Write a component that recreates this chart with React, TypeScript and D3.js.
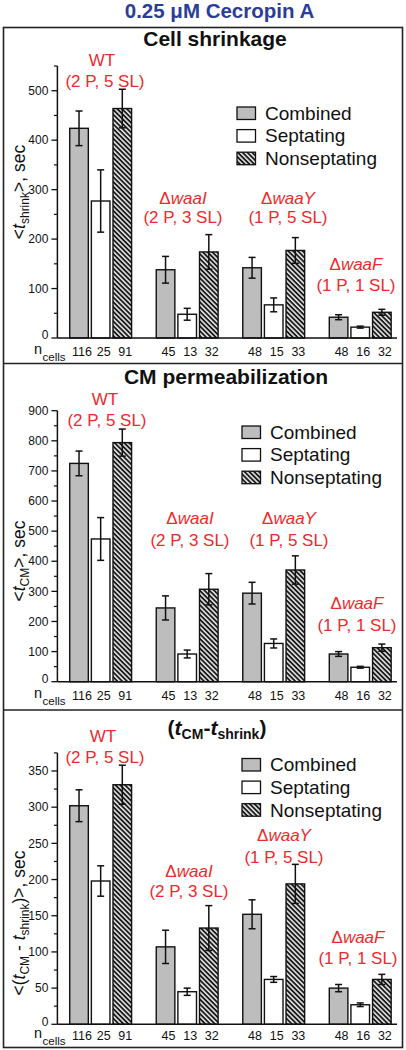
import React, { useEffect } from 'react';
import * as d3 from 'd3';

// ---------- data ----------
const groupGenes = ['WT', 'waaI', 'waaY', 'waaF'];
const groupCounts = ['(2 P, 5 SL)', '(2 P, 3 SL)', '(1 P, 5 SL)', '(1 P, 1 SL)'];
const seriesNames = ['Combined', 'Septating', 'Nonseptating'];
const nCells = [[116, 25, 91], [45, 13, 32], [48, 15, 33], [48, 16, 32]];

const shrinkMean = [[424, 277, 464], [138, 48, 174], [142, 67, 177], [42, 22, 52]];
const shrinkErr = [[35, 63, 39], [27, 12, 35], [21, 14, 26], [5, 2, 6]];
const cmMean = [[725, 474, 794], [245, 92, 307], [294, 127, 371], [92, 48, 113]];
const cmErr = [[41, 71, 45], [40, 13, 52], [36, 15, 47], [8, 3, 12]];
const diffMean = [[302, 198, 331], [107, 45, 133], [152, 62, 194], [50, 27, 62]];
const diffErr = [[22, 21, 27], [23, 5, 31], [20, 4, 27], [5, 2.5, 7]];

const shrinkTicks = [0, 100, 200, 300, 400, 500];
const cmTicks = [0, 100, 200, 300, 400, 500, 600, 700, 800, 900];
const diffTicks = [0, 50, 100, 150, 200, 250, 300, 350];

const FONT = '"Liberation Sans", Arial, Helvetica, sans-serif';
const RED = '#ec2a2d';
const BLUE = '#2b3e97';
const GRAY = '#bdbdbd';

const W = 406;
const H = 1050;

// x positions: bar index = group*4 + series
const x = d3.scaleLinear().domain([-1, 14.7]).range([57.4, 397]);
const BAR_W = 18.6;

type PanelCfg = {
  mean: number[][];
  err: number[][];
  ticks: number[];
  minorStep: number;
  yMax: number;
  y0: number;
  yTop: number;
  title: React.ReactNode;
  titleX: number;
  titleY: number;
  yLabel: React.ReactNode;
  yLabelY: number;
  legendX: number;
  legendY: number;
  ann: { x1: number; y1: number; x2: number; y2: number }[];
  nY: number;
};

const panels: PanelCfg[] = [
  {
    mean: shrinkMean, err: shrinkErr, ticks: shrinkTicks, minorStep: 50, yMax: 550,
    y0: 338, yTop: 66,
    title: 'Cell shrinkage', titleX: 215, titleY: 45.5,
    yLabel: (
      <>
        {'<'}<tspan fontStyle="italic">t</tspan>
        <tspan fontSize={12} dy={4}>shrink</tspan>
        <tspan dy={-4}>{'>, sec'}</tspan>
      </>
    ),
    yLabelY: 192,
    legendX: 237, legendY: 107,
    ann: [
      { x1: 102, y1: 66, x2: 105, y2: 87 },
      { x1: 183, y1: 204, x2: 183, y2: 222.5 },
      { x1: 288, y1: 204, x2: 288, y2: 222.5 },
      { x1: 356, y1: 270, x2: 356, y2: 290.5 },
    ],
    nY: 356,
  },
  {
    mean: cmMean, err: cmErr, ticks: cmTicks, minorStep: 50, yMax: 900,
    y0: 681.7, yTop: 410.7,
    title: 'CM permeabilization', titleX: 226, titleY: 384,
    yLabel: (
      <>
        {'<'}<tspan fontStyle="italic">t</tspan>
        <tspan fontSize={12} dy={4}>CM</tspan>
        <tspan dy={-4}>{'>, sec'}</tspan>
      </>
    ),
    yLabelY: 561,
    legendX: 242, legendY: 426,
    ann: [
      { x1: 105, y1: 405, x2: 107, y2: 426 },
      { x1: 190, y1: 524, x2: 190, y2: 546 },
      { x1: 289, y1: 524, x2: 289, y2: 546 },
      { x1: 357, y1: 609, x2: 357, y2: 631 },
    ],
    nY: 700,
  },
  {
    mean: diffMean, err: diffErr, ticks: diffTicks, minorStep: 25, yMax: 375,
    y0: 1024.3, yTop: 752.9,
    title: (
      <>
        {'('}<tspan fontStyle="italic">t</tspan>
        <tspan fontSize={14} dy={4}>CM</tspan>
        <tspan dy={-4}>-</tspan><tspan fontStyle="italic">t</tspan>
        <tspan fontSize={14} dy={4}>shrink</tspan>
        <tspan dy={-4}>)</tspan>
      </>
    ),
    titleX: 217, titleY: 735,
    yLabel: (
      <>
        {'<('}<tspan fontStyle="italic">t</tspan>
        <tspan fontSize={12} dy={4}>CM</tspan>
        <tspan dy={-4}>{' - '}</tspan><tspan fontStyle="italic">t</tspan>
        <tspan fontSize={12} dy={4}>shrink</tspan>
        <tspan dy={-4}>{')>, sec'}</tspan>
      </>
    ),
    yLabelY: 923,
    legendX: 242, legendY: 758.5,
    ann: [
      { x1: 103, y1: 742, x2: 105, y2: 763 },
      { x1: 189, y1: 877, x2: 189, y2: 897 },
      { x1: 284, y1: 841, x2: 284, y2: 862.5 },
      { x1: 358, y1: 943, x2: 358, y2: 963.5 },
    ],
    nY: 1040,
  },
];

const fills = [GRAY, '#ffffff', 'url(#hatch)'];

function Panel({ p }: { p: PanelCfg }) {
  const y = d3.scaleLinear().domain([0, p.yMax]).range([p.y0, p.yTop]);
  const minor = d3.range(p.minorStep, p.yMax + 0.001, p.minorStep).filter((v) => !p.ticks.includes(v));
  const axisX = x(-1);
  const bars: JSX.Element[] = [];
  p.mean.forEach((g, gi) => {
    g.forEach((v, si) => {
      const cx = x(gi * 4 + si);
      const e = p.err[gi][si];
      bars.push(
        <g key={`b${gi}-${si}`}>
          <rect x={cx - BAR_W / 2} y={y(v)} width={BAR_W} height={y(0) - y(v)}
            fill={fills[si]} stroke="#111" strokeWidth={1.4} />
          <line x1={cx} x2={cx} y1={y(v - e)} y2={y(v + e)} stroke="#111" strokeWidth={1.5} />
          <line x1={cx - 3.5} x2={cx + 3.5} y1={y(v - e)} y2={y(v - e)} stroke="#111" strokeWidth={1.5} />
          <line x1={cx - 3.5} x2={cx + 3.5} y1={y(v + e)} y2={y(v + e)} stroke="#111" strokeWidth={1.5} />
        </g>
      );
    });
  });
  return (
    <g>
      {bars}
      {/* y axis */}
      <line x1={axisX} x2={axisX} y1={y(p.yMax)} y2={y(0)} stroke="#111" strokeWidth={1.5} />
      <line x1={axisX} x2={x(14.7)} y1={y(0)} y2={y(0)} stroke="#111" strokeWidth={1.5} />
      {p.ticks.map((t) => (
        <g key={`t${t}`}>
          <line x1={axisX - 6} x2={axisX} y1={y(t)} y2={y(t)} stroke="#111" strokeWidth={1.3} />
          <text x={axisX - 9} y={y(t) - (t === 0 ? 3 : 0)} dy="0.35em" textAnchor="end" fontSize={12} fill="#111">{t}</text>
        </g>
      ))}
      {minor.map((t) => (
        <line key={`m${t}`} x1={axisX - 3.5} x2={axisX} y1={y(t)} y2={y(t)} stroke="#111" strokeWidth={1.2} />
      ))}
      {/* title */}
      <text x={p.titleX} y={p.titleY} textAnchor="middle" fontSize={21} fontWeight="bold" fill="#111">{p.title}</text>
      {/* y label */}
      <text transform={`translate(25,${p.yLabelY}) rotate(-90)`} textAnchor="middle" fontSize={17.5} fill="#111">
        {p.yLabel}
      </text>
      {/* legend */}
      {seriesNames.map((s, i) => (
        <g key={s}>
          <rect x={p.legendX} y={p.legendY + i * 22.6} width={18.5} height={12.5} fill={fills[i]} stroke="#111" strokeWidth={1.3} />
          <text x={p.legendX + 28} y={p.legendY + i * 22.6 + 12.8} fontSize={19} fill="#111">{s}</text>
        </g>
      ))}
      {/* annotations */}
      {groupGenes.map((g, gi) => {
        const a = p.ann[gi];
        return (
          <g key={g} fill={RED} fontSize={17}>
            <text x={a.x1} y={a.y1} textAnchor="middle">
              {gi === 0 ? g : (<>{'Δ'}<tspan fontStyle="italic">{g}</tspan></>)}
            </text>
            <text x={a.x2} y={a.y2} textAnchor="middle">{groupCounts[gi]}</text>
          </g>
        );
      })}
      {/* n cells */}
      <text x={34} y={p.nY - 2.5} fontSize={14.5} fill="#111">n</text>
      <text x={42.5} y={p.nY + 5} fontSize={11.5} fill="#111">cells</text>
      {nCells.map((g, gi) =>
        g.map((n, si) => (
          <text key={`n${gi}-${si}`} x={x(gi * 4 + si) + 3} y={p.nY} textAnchor="middle" fontSize={12.5} fill="#111">{n}</text>
        ))
      )}
    </g>
  );
}

export default function App() {
  useEffect(() => {
    document.body.style.margin = '0';
  }, []);
  return (
    <svg width={W} height={H} viewBox={`0 0 ${W} ${H}`} style={{ position: 'absolute', left: 0, top: 0, display: 'block' }}
      fontFamily={FONT}>
      <defs>
        <pattern id="hatch" width={3.4} height={3.4} patternUnits="userSpaceOnUse" patternTransform="rotate(45)">
          <rect width={3.4} height={3.4} fill="#e2e2e2" />
          <rect width={3.4} height={1.8} fill="#1a1a1a" />
        </pattern>
      </defs>
      <rect x={0} y={0} width={W} height={H} fill="#fff" />
      <text x={219.5} y={18} textAnchor="middle" fontSize={20.5} fontWeight="bold" fill={BLUE}>0.25 μM Cecropin A</text>
      <rect x={3.5} y={27.5} width={399} height={1020} fill="none" stroke="#222" strokeWidth={1.6} />
      <line x1={3.5} x2={402.5} y1={363.5} y2={363.5} stroke="#222" strokeWidth={1.6} />
      <line x1={3.5} x2={402.5} y1={710} y2={710} stroke="#222" strokeWidth={1.6} />
      {panels.map((p, i) => (
        <Panel key={i} p={p} />
      ))}
    </svg>
  );
}
